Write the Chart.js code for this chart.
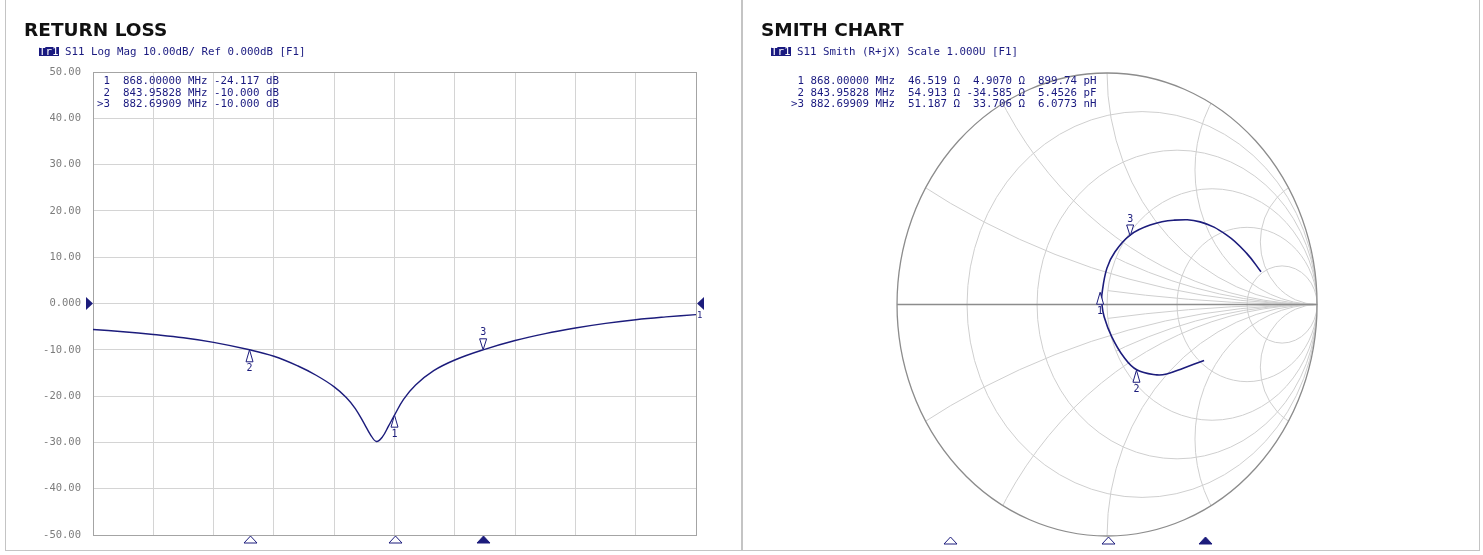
<!DOCTYPE html>
<html>
<head>
<meta charset="utf-8">
<script src="https://cdn.jsdelivr.net/npm/chart.js@4.4.1/dist/chart.umd.min.js"></script>
<style>
  body { margin:0; width:1483px; height:555px; background:#fff; position:relative; overflow:hidden; font-family:"DejaVu Sans Mono", monospace; }
  .panel { position:absolute; top:-2px; height:553px; border:1px solid #c4c4c4; box-sizing:border-box; }
  h2 { position:absolute; margin:0; font:bold 18.5px/18.5px "DejaVu Sans", sans-serif; color:#111; }
  .sub { position:absolute; font-size:10.8px; line-height:12px; color:#1a1a80; white-space:pre; }
  .tr { display:inline-block; line-height:9px; background:#1a1a80; color:#fff; }
  .tbl { position:absolute; font-size:10.8px; line-height:11.65px; color:#1a1a80; white-space:pre; }
  canvas { position:absolute; top:0; }
</style>
</head>
<body>
<div class="panel" style="left:5px;width:737px"></div>
<div class="panel" style="left:742px;width:738px"></div>

<canvas id="rl" width="742" height="555" style="left:0"></canvas>
<canvas id="smith" width="736" height="555" style="left:743px"></canvas>

<h2 style="left:24px;top:21px">RETURN LOSS</h2>
<div class="sub" style="left:39px;top:46px"><span class="tr">Tr1</span> S11 Log Mag 10.00dB/ Ref 0.000dB [F1]</div>
<div class="tbl" style="left:97px;top:75px"> 1  868.00000 MHz -24.117 dB
 2  843.95828 MHz -10.000 dB
>3  882.69909 MHz -10.000 dB</div>

<h2 style="left:761px;top:21px">SMITH CHART</h2>
<div class="sub" style="left:771px;top:46px"><span class="tr">Tr1</span> S11 Smith (R+jX) Scale 1.000U [F1]</div>
<div class="tbl" style="left:791px;top:75px"> 1 868.00000 MHz  46.519 Ω  4.9070 Ω  899.74 pH
 2 843.95828 MHz  54.913 Ω -34.585 Ω  5.4526 pF
>3 882.69909 MHz  51.187 Ω  33.706 Ω  6.0773 nH</div>

<script>
// return loss trace
const freqMHz = [818, 823, 828, 833, 838, 843.96, 848, 852, 855, 858, 860, 861.5, 863, 864, 865, 866, 867, 868, 869.5, 871.5, 874.5, 878, 882.7, 888, 893, 898, 903, 908, 913, 918]
const s11dB = [-5.6, -6.1, -6.7, -7.4, -8.4, -10.0, -11.4, -13.5, -15.5, -18.0, -20.3, -22.7, -26.0, -28.3, -29.8, -28.8, -26.5, -24.1, -20.7, -17.6, -14.5, -12.2, -10.0, -8.0, -6.5, -5.3, -4.3, -3.5, -2.9, -2.4]
const yTicks = [50, 40, 30, 20, 10, 0, -10, -20, -30, -40, -50]
const yTickLabels = ['50.00', '40.00', '30.00', '20.00', '10.00', '0.000', '-10.00', '-20.00', '-30.00', '-40.00', '-50.00']

// markers
const markerNames = ['1', '2', '3']
const markerFreq = [868.0, 843.95828, 882.69909]
const markerDb = [-24.117, -10.0, -10.0]
const markerActive = [false, false, true]

// smith trace (reflection coefficient, re / im), 818 -> 918 MHz
const smithRe = [0.462, 0.363, 0.284, 0.237, 0.141, 0.078, 0.022, -0.014, -0.025, -0.025, -0.001, 0.038, 0.110, 0.205, 0.316, 0.443, 0.570, 0.665, 0.733]
const smithIm = [-0.242, -0.275, -0.300, -0.304, -0.282, -0.225, -0.139, -0.053, 0.005, 0.041, 0.156, 0.228, 0.300, 0.343, 0.364, 0.357, 0.300, 0.221, 0.141]
const smithMarkRe = [-0.033, 0.140, 0.110]
const smithMarkIm = [0.053, -0.284, 0.296]

// smith grid
const smithR = [0.2, 0.5, 1, 2, 5]
const smithX = [0.27, 0.58, 1, 1.72, 3.7]
const smithXInner = [0.12, 0.42]   // short arcs, only inside the r=1 circle

const NAVY = '#1c1c7c'
const GRID = '#d4d4d4'
const FRAME = '#a4a4a4'

function tri(ctx, px, py, w, h, dir, filled) {
    // dir 1 = tip on top (pointing up), -1 = tip at bottom
    ctx.beginPath()
    ctx.moveTo(px, py)
    ctx.lineTo(px - w / 2, py + dir * h)
    ctx.lineTo(px + w / 2, py + dir * h)
    ctx.closePath()
    ctx.fillStyle = filled ? NAVY : '#fff'
    ctx.fill()
    ctx.strokeStyle = NAVY
    ctx.lineWidth = 1
    ctx.stroke()
}

function drawMarker(ctx, px, py, name, above) {
    ctx.font = '10px "DejaVu Sans Mono"'
    ctx.textAlign = 'center'
    ctx.textBaseline = 'middle'
    if (above) {
        tri(ctx, px, py, 7, 11, -1, false)
        ctx.fillStyle = NAVY
        ctx.fillText(name, px, py - 17)
    } else {
        tri(ctx, px, py, 7, 12, 1, false)
        ctx.fillStyle = NAVY
        ctx.fillText(name, px, py + 19)
    }
}

function bottomMarks(ctx, scale, bottom) {
    markerFreq.forEach((f, i) => {
        const px = Math.round(scale.getPixelForValue(f)) + 0.5
        ctx.beginPath()
        ctx.moveTo(px, bottom + 1)
        ctx.lineTo(px - 6.5, bottom + 8)
        ctx.lineTo(px + 6.5, bottom + 8)
        ctx.closePath()
        ctx.fillStyle = markerActive[i] ? NAVY : '#fff'
        ctx.fill()
        ctx.strokeStyle = NAVY
        ctx.lineWidth = 1
        ctx.stroke()
    })
}

const rlMarkers = {
    id: 'rlMarkers',
    afterDatasetsDraw(chart) {
        const {ctx, chartArea, scales: {x, y}} = chart
        ctx.save()
        markerFreq.forEach((f, i) => {
            drawMarker(ctx, x.getPixelForValue(f), y.getPixelForValue(markerDb[i]), markerNames[i], markerActive[i])
        })
        bottomMarks(ctx, x, chartArea.bottom)
        // reference level arrows
        const ry = y.getPixelForValue(0)
        ctx.fillStyle = NAVY
        ctx.beginPath()
        ctx.moveTo(chartArea.left - 7, ry - 6.5)
        ctx.lineTo(chartArea.left, ry)
        ctx.lineTo(chartArea.left - 7, ry + 6.5)
        ctx.fill()
        ctx.beginPath()
        ctx.moveTo(chartArea.right + 8, ry - 6.5)
        ctx.lineTo(chartArea.right + 1, ry)
        ctx.lineTo(chartArea.right + 8, ry + 6.5)
        ctx.fill()
        ctx.font = '9px "DejaVu Sans Mono"'
        ctx.textAlign = 'left'
        ctx.textBaseline = 'middle'
        ctx.fillText('1', chartArea.right + 1, y.getPixelForValue(s11dB[s11dB.length - 1]) + 1)
        ctx.restore()
    }
}

new Chart(document.getElementById('rl'), {
    type: 'line',
    data: {
        datasets: [{
            data: freqMHz.map((f, i) => ({x: f, y: s11dB[i]})),
            borderColor: NAVY,
            borderWidth: 1.4,
            pointRadius: 0,
            tension: 0.4,
            fill: false
        }]
    },
    options: {
        responsive: false,
        animation: false,
        plugins: {legend: {display: false}, tooltip: {enabled: false}},
        layout: {padding: {top: 72, right: 46, bottom: 20, left: 0}},
        scales: {
            x: {
                type: 'linear', min: 818, max: 918,
                ticks: {display: false, stepSize: 10},
                grid: {drawTicks: false, color: c => (c.tick && (c.tick.value == 818 || c.tick.value == 918)) ? FRAME : GRID},
                border: {color: FRAME},
                afterFit: s => { s.height = 0 }
            },
            y: {
                min: -50, max: 50,
                afterBuildTicks: s => { s.ticks = yTicks.map(v => ({value: v})) },
                ticks: {
                    padding: 12, color: '#7c7c7c',
                    font: {family: 'DejaVu Sans Mono', size: 10.5},
                    callback: (v) => yTickLabels[yTicks.indexOf(v)]
                },
                grid: {drawTicks: false, color: c => (c.tick && Math.abs(c.tick.value) == 50) ? FRAME : GRID},
                border: {color: FRAME},
                afterFit: s => { s.width = 93 }
            }
        }
    },
    plugins: [rlMarkers]
})

const smithGrid = {
    id: 'smithGrid',
    beforeDatasetsDraw(chart) {
        const {ctx, scales: {x, y}} = chart
        const sx = x.getPixelForValue(1) - x.getPixelForValue(0)
        const sy = y.getPixelForValue(0) - y.getPixelForValue(1)
        const path = (cx, cy, r) => {
            ctx.beginPath()
            ctx.ellipse(x.getPixelForValue(cx), y.getPixelForValue(cy), r * sx, r * sy, 0, 0, Math.PI * 2)
        }
        const circ = (cx, cy, r) => { path(cx, cy, r); ctx.stroke() }
        ctx.save()
        path(0, 0, 1)
        ctx.clip()
        ctx.strokeStyle = '#cfcfcf'
        ctx.lineWidth = 1
        smithR.forEach(r => circ(r / (1 + r), 0, 1 / (1 + r)))
        smithX.forEach(v => { circ(1, 1 / v, 1 / v); circ(1, -1 / v, 1 / v) })
        path(0.5, 0, 0.5)
        ctx.clip()
        smithXInner.forEach(v => { circ(1, 1 / v, 1 / v); circ(1, -1 / v, 1 / v) })
        ctx.restore()
        ctx.save()
        ctx.strokeStyle = '#8c8c8c'
        ctx.lineWidth = 1.3
        circ(0, 0, 1)
        ctx.lineWidth = 1.6
        ctx.beginPath()
        ctx.moveTo(x.getPixelForValue(-1), y.getPixelForValue(0))
        ctx.lineTo(x.getPixelForValue(1), y.getPixelForValue(0))
        ctx.stroke()
        ctx.restore()
    },
    afterDatasetsDraw(chart) {
        const {ctx, chartArea, scales: {x, y, xf}} = chart
        ctx.save()
        smithMarkRe.forEach((re, i) => {
            drawMarker(ctx, x.getPixelForValue(re), y.getPixelForValue(smithMarkIm[i]), markerNames[i], markerActive[i])
        })
        bottomMarks(ctx, xf, chartArea.bottom)
        ctx.restore()
    }
}

new Chart(document.getElementById('smith'), {
    type: 'scatter',
    data: {
        datasets: [{
            data: smithRe.map((r, i) => ({x: r, y: smithIm[i]})),
            showLine: true,
            borderColor: NAVY,
            borderWidth: 1.6,
            pointRadius: 0,
            tension: 0.4
        }]
    },
    options: {
        responsive: false,
        animation: false,
        plugins: {legend: {display: false}, tooltip: {enabled: false}},
        layout: {padding: {top: 73, right: 42, bottom: 19, left: 36}},
        scales: {
            x: {display: false, min: -1.562, max: 1.571},
            y: {display: false, min: -1, max: 1},
            xf: {display: false, type: 'linear', axis: 'x', min: 818, max: 918}
        }
    },
    plugins: [smithGrid]
})
</script>
</body>
</html>
